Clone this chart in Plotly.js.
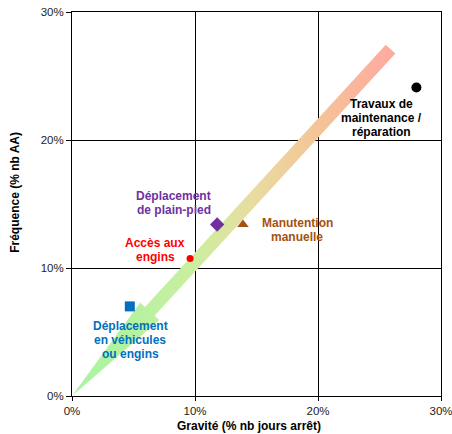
<!DOCTYPE html>
<html>
<head>
<meta charset="utf-8">
<script src="https://cdn.plot.ly/plotly-3.0.1.min.js"></script>
<style>html,body{margin:0;padding:0;background:#fff}</style>
</head>
<body>
<div id="chart" style="width:452px;height:434px"></div>
<script>
// ---- data ----
const categories = ['Travaux de maintenance / réparation', 'Déplacement de plain-pied', 'Accès aux engins', 'Manutention manuelle', 'Déplacement en véhicules ou engins'];
const labelLines = [['Travaux de', 'maintenance /', 'réparation'], ['Déplacement', 'de plain-pied'], ['Accès aux', 'engins'], ['Manutention', 'manuelle'], ['Déplacement', 'en véhicules', 'ou engins']];
const gravite = [28.0, 11.8, 9.6, 13.9, 4.7];     // % nb jours arrêt
const frequence = [24.1, 13.4, 10.75, 13.4, 7.0]; // % nb AA
const labelX = [25.15, 8.27, 6.77, 18.31, 4.72];
const labelY = [21.74, 15.05, 11.43, 12.94, 4.41];
const arrowTail = [25.9, 27.1];
const arrowTip = [0, 0];
const tickVals = [0, 10, 20, 30];
const tickText = ['0%', '10%', '20%', '30%'];

// ---- styles ----
const colors = ['#000000', '#7030a0', '#ff0000', '#a5520e', '#0070c0'];
const symbols = ['circle', 'diamond', 'circle', 'triangle-up', 'square'];
const sizes = [10, 11, 7, 10, 10];
const W = 452, H = 434, M = {l: 72, r: 11, t: 12, b: 38};
const xs = (W - M.l - M.r) / 30, ys = (H - M.t - M.b) / 30; // px per unit
const headLen = 115, headHalf = 13, shaftHalf = 6.5;

// arrow polygon built in pixel space from data endpoints
const vx = (arrowTail[0] - arrowTip[0]) * xs, vy = (arrowTail[1] - arrowTip[1]) * ys;
const L = Math.hypot(vx, vy), ux = vx / L, uy = vy / L, nx = uy, ny = -ux;
const local = [[0, 0], [headLen, -headHalf], [headLen, -shaftHalf], [L, -shaftHalf], [L, shaftHalf], [headLen, shaftHalf], [headLen, headHalf], [0, 0]];
const ax = local.map(p => arrowTip[0] + (p[0] * ux + p[1] * nx) / xs);
const ay = local.map(p => arrowTip[1] + (p[0] * uy + p[1] * ny) / ys);

const font = 'Liberation Sans, Arial, sans-serif';
const traces = [{
  x: ax, y: ay, type: 'scatter', mode: 'lines', fill: 'toself',
  line: {width: 0, color: 'rgba(0,0,0,0)'},
  fillgradient: {type: 'horizontal', start: 0, stop: Math.max(...ax),
    colorscale: [[0, '#a8f5a0'], [0.15, '#b0f3a0'], [0.38, '#cdeea0'], [0.56, '#e8dca0'], [0.77, '#f5c398'], [1, '#ffa8a0']]},
  hoverinfo: 'skip', showlegend: false
}];
categories.forEach((c, i) => traces.push({
  x: [gravite[i]], y: [frequence[i]], name: c, type: 'scatter', mode: 'markers',
  marker: {color: colors[i], symbol: symbols[i], size: sizes[i], line: {width: 0}},
  showlegend: false, hoverinfo: 'skip'
}));

const annotations = [];
labelLines.forEach((lines, i) => {
  lines.forEach((t, j) => annotations.push({
    x: labelX[i], y: labelY[i], xref: 'x', yref: 'y', text: '<b>' + t + '</b>', showarrow: false,
    xanchor: 'center', yanchor: 'middle', yshift: ((lines.length - 1) / 2 - j) * 14,
    font: {family: font, size: 12, color: colors[i]}
  }));
});
annotations.push({xref: 'paper', yref: 'paper', x: 0.48, y: 0, yanchor: 'middle', yshift: -29.5, showarrow: false,
  text: '<b>Gravité (% nb jours arrêt)</b>', font: {family: font, size: 12, color: '#000'}});
annotations.push({xref: 'paper', yref: 'paper', x: 0, y: 0.529, xanchor: 'center', yanchor: 'middle', xshift: -57, textangle: -90, showarrow: false,
  text: '<b>Fréquence (% nb AA)</b>', font: {family: font, size: 12, color: '#000'}});

const axisCommon = {range: [0, 30], tickvals: tickVals, ticktext: tickText, showgrid: true, gridcolor: '#000', gridwidth: 1,
  zeroline: false, showline: true, linecolor: '#000', linewidth: 1, mirror: true, ticks: 'outside', ticklen: 4, tickcolor: '#000',
  ticklabeloverflow: 'allow',
  tickfont: {family: font, size: 11.5, color: '#222'}, fixedrange: true};

Plotly.newPlot('chart', traces, {
  width: W, height: H, margin: M, paper_bgcolor: '#fff', plot_bgcolor: '#fff',
  xaxis: Object.assign({}, axisCommon),
  yaxis: Object.assign({}, axisCommon, {ticklen: 5}),
  annotations: annotations, showlegend: false
}, {displayModeBar: false, staticPlot: true});
</script>
</body>
</html>
